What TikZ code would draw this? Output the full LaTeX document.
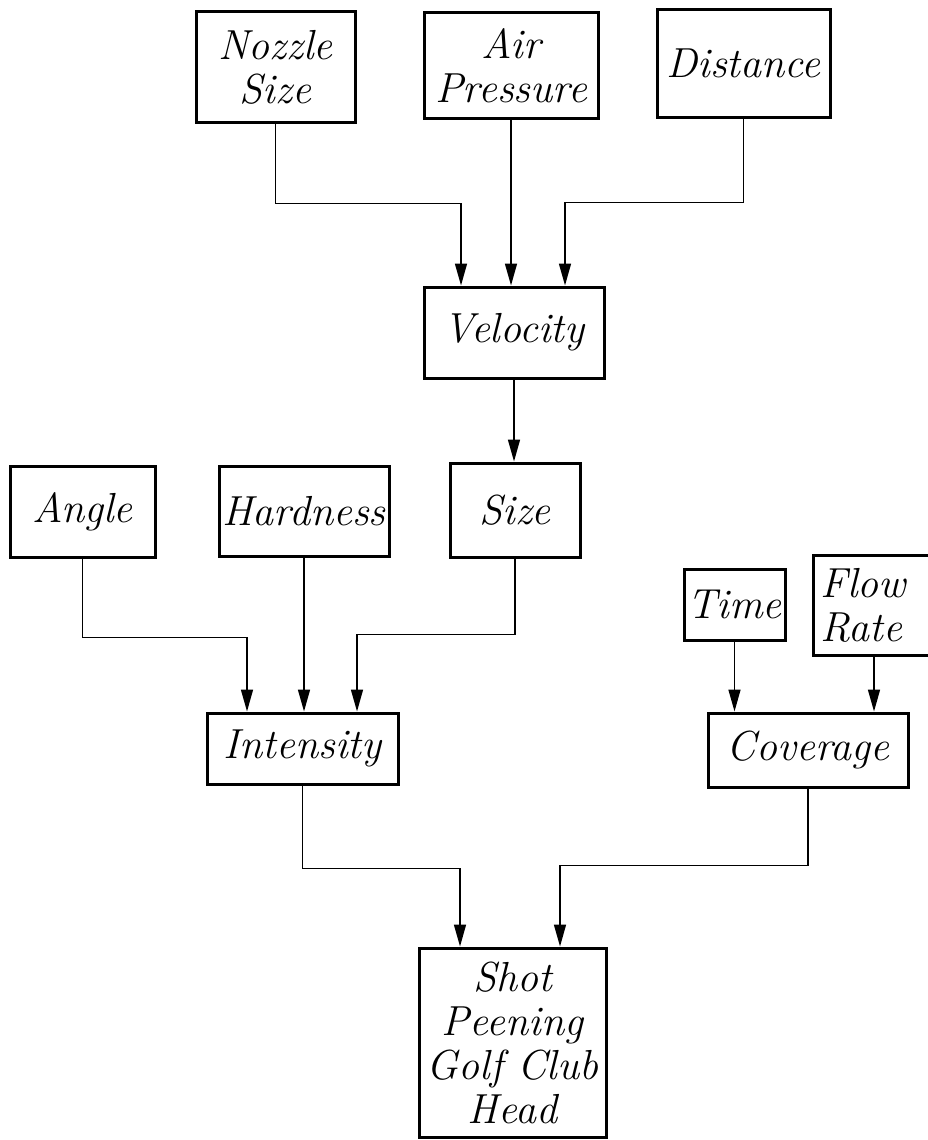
\documentclass[tikz,border=0pt]{standalone}
\usetikzlibrary{arrows.meta}
\begin{document}
\begin{tikzpicture}[x=1pt,y=1pt,
  box/.style={draw, line width=3pt, inner sep=0pt, align=center,
    font=\fontsize{42}{44}\selectfont\itshape},
  arr/.style={line width=1.6pt, -{Triangle[length=22pt,width=12pt]}}]
\useasboundingbox (0,0) rectangle (927,-1140);
\node[box, minimum width=159pt, minimum height=110pt] (nozzle) at (275.5,-67) {Nozzle\\Size};
\node[box, minimum width=174pt, minimum height=105pt] (air) at (511,-65.5) {Air\\Pressure};
\node[box, minimum width=173pt, minimum height=107pt] (dist) at (743.5,-63.5) {Distance};
\node[box, minimum width=180pt, minimum height=91pt] (vel) at (514,-332.5) {Velocity};
\node[box, minimum width=145pt, minimum height=91pt] (angle) at (82.5,-511.5) {Angle};
\node[box, minimum width=170pt, minimum height=90pt] (hard) at (304,-511) {Hardness};
\node[box, minimum width=130pt, minimum height=94pt] (size) at (515,-510) {Size};
\node[box, minimum width=101pt, minimum height=71pt] (time) at (734.5,-604.5) {Time};
\node[box, minimum width=137pt, minimum height=100pt, text width=122pt, align=left] (flow) at (881.5,-605) {Flow\\Rate};
\node[box, minimum width=191pt, minimum height=71pt] (int) at (302.5,-748.5) {Intensity};
\node[box, minimum width=200pt, minimum height=74pt] (cov) at (808,-750) {Coverage};
\node[box, minimum width=187pt, minimum height=189pt] (shot) at (512.5,-1042.5) {Shot\\Peening\\Golf Club\\Head};
% connectors
\draw[arr] (nozzle.south) -- ++(0,-80) -| ([xshift=-53pt]vel.north);
\draw[arr] (air.south) -- (air.south |- vel.north);
\draw[arr] (dist.south) -- ++(0,-84) -| ([xshift=51pt]vel.north);
\draw[arr] (vel.south) -- (vel.south |- size.north);
\draw[arr] (angle.south) -- ++(0,-79) -| ([xshift=-55.5pt]int.north);
\draw[arr] (hard.south) -- (hard.south |- int.north);
\draw[arr] (size.south) -- ++(0,-76) -| ([xshift=54.5pt]int.north);
\draw[arr] (time.south) -- (time.south |- cov.north);
\draw[arr] ([xshift=-7.5pt]flow.south) -- ([xshift=-7.5pt]flow.south |- cov.north);
\draw[arr] (int.south) -- ++(0,-83) -| ([xshift=-52.5pt]shot.north);
\draw[arr] (cov.south) -- ++(0,-77) -| ([xshift=47.5pt]shot.north);
\end{tikzpicture}
\end{document}
